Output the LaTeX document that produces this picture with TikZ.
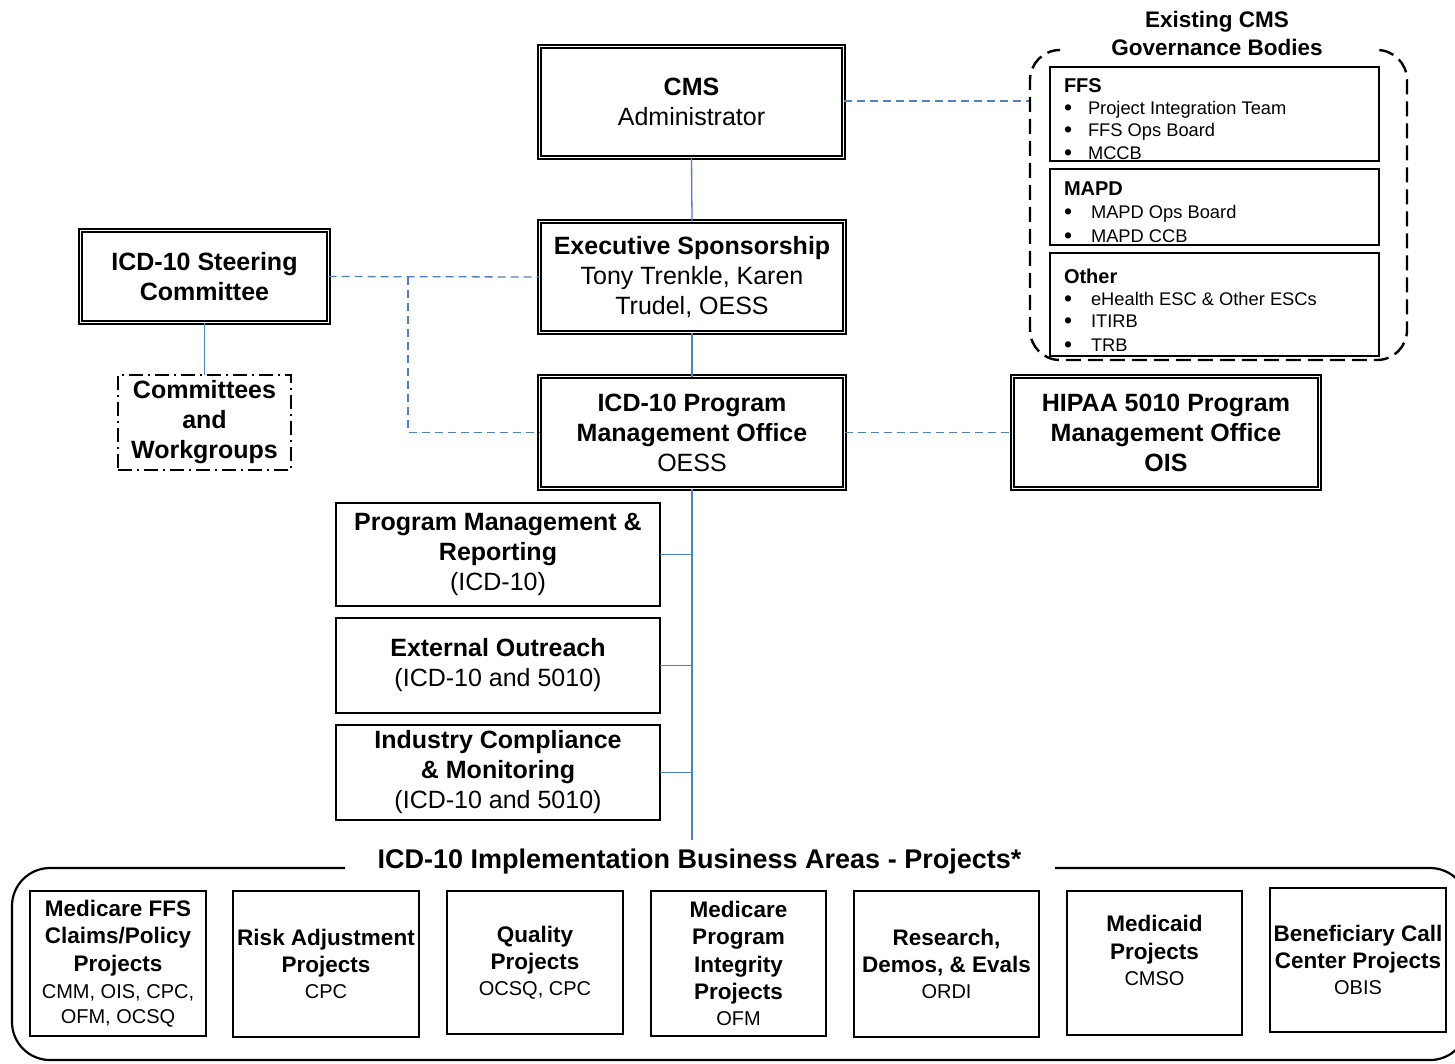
\documentclass[tikz,border=0pt]{standalone}
\usepackage{fontspec}
\setmainfont{Liberation Sans}
\definecolor{lineblue}{RGB}{79,129,189}
\newcommand{\gbul}[1]{\makebox[#1][l]{\raisebox{-0.5pt}{\fontsize{23}{23}\selectfont\textbullet}}}
\begin{document}
\begin{tikzpicture}[x=1pt,y=-1pt,
  every node/.style={inner sep=0pt, outer sep=0pt},
  fmain/.style={font=\fontsize{25}{30}\selectfont},
  dbox/.style={draw, double, line width=1.9pt, double distance=1.3pt, align=center, fmain},
  sbox/.style={draw, line width=2.2pt, align=center, fmain},
  pbox/.style={draw, line width=2pt, align=center, font=\fontsize{22.5}{27.5}\selectfont\bfseries},
  gbox/.style={draw, line width=1.5pt},
  gh/.style={anchor=base west, font=\fontsize{20}{24}\selectfont\bfseries},
  gi/.style={anchor=base west, font=\fontsize{18.3}{23}\selectfont},
  gt/.style={anchor=base, font=\fontsize{22.5}{28}\selectfont\bfseries},
  conn/.style={draw=lineblue, line width=1.3pt},
  dconn/.style={draw=lineblue, line width=1.3pt, dash pattern=on 8pt off 5pt},
]
\useasboundingbox (0,0) rectangle (1455,1063);
\fill[white] (0,0) rectangle (1455,1063);

% main double boxes
\node[dbox, minimum width=304, minimum height=111] (cms) at (691.5,102) {\textbf{CMS}\\Administrator};
\node[dbox, minimum width=305, minimum height=111] (exec) at (692,277) {\textbf{Executive Sponsorship}\\Tony Trenkle, Karen\\Trudel, OESS};
\node[dbox, minimum width=248, minimum height=92] (steer) at (204.5,276.5) {\textbf{ICD-10 Steering}\\\textbf{Committee}};
\node[dbox, minimum width=305, minimum height=112] (pmo) at (692,432.5) {\textbf{ICD-10 Program}\\\textbf{Management Office}\\OESS};
\node[dbox, minimum width=307, minimum height=112] (hipaa) at (1166,432.5) {\textbf{HIPAA 5010 Program}\\\textbf{Management Office}\\\textbf{OIS}};

% committees
\node[draw, line width=2pt, dash pattern=on 14pt off 5pt on 2pt off 5pt, align=center, fmain, minimum width=173, minimum height=95] (comm) at (204.5,422.5) {\textbf{Committees}\\\textbf{and}\\\textbf{Workgroups}};

% PMO sub boxes
\node[sbox, minimum width=324, minimum height=103] (pmr) at (498,554.5) {\textbf{Program Management \&}\\\textbf{Reporting}\\(ICD-10)};
\node[sbox, minimum width=324, minimum height=95] (ext) at (498,665.5) {\textbf{External Outreach}\\(ICD-10 and 5010)};
\node[sbox, minimum width=324, minimum height=95] (ind) at (498,772.5) {\textbf{Industry Compliance}\\\textbf{\& Monitoring}\\(ICD-10 and 5010)};

% connectors
\coordinate (tb) at (692,840);
\draw[conn] (cms.south) -- (exec.north);
\draw[conn] (exec.south) -- (pmo.north);
\draw[conn] (steer.south) -- (comm.north);
\draw[conn] (pmo.south) -- (tb);
\draw[conn] (pmr.east) -- (pmr.east -| tb);
\draw[conn] (ext.east) -- (ext.east -| tb);
\draw[conn] (ind.east) -- (ind.east -| tb);
\coordinate (jn) at (408,277);
\draw[dconn] (steer.east) -- (exec.west);
\draw[dconn] (jn) |- (pmo.west);
\draw[dconn] (pmo.east) -- (hipaa.west);
\coordinate (govL) at (1030,101);
\draw[dconn] (cms.east |- govL) -- (govL);

% governance bodies
\draw[line width=2.4pt, dash pattern=on 15pt off 7pt, rounded corners=30pt]
  (1058,50) -- (1030,50) -- (1030,360) -- (1407,360) -- (1407,50) -- (1375,50);
\node[gt] (gt1) at (1217,27.1) {Existing CMS};
\node[gt] (gt2) at (1217,55.1) {Governance Bodies};
\node[gbox, minimum width=329, minimum height=94] (ffs) at (1214.5,114) {};
\node[gbox, minimum width=329, minimum height=76] (mapd) at (1214.5,207) {};
\node[gbox, minimum width=329, minimum height=103] (oth) at (1214.5,304.5) {};
\node[gh] (ffsh) at (1064,92.2) {FFS};
\node[gi] (ffs1) at (1064,114.6) {\gbul{24pt}Project Integration Team};
\node[gi] (ffs2) at (1064,136.6) {\gbul{24pt}FFS Ops Board};
\node[gi] (ffs3) at (1064,159.6) {\gbul{24pt}MCCB};
\node[gh] (mapdh) at (1064,195.2) {MAPD};
\node[gi] (mapd1) at (1064,218.6) {\gbul{27pt}MAPD Ops Board};
\node[gi] (mapd2) at (1064,242.6) {\gbul{27pt}MAPD CCB};
\node[gh] (othh) at (1064,283.2) {Other};
\node[gi] (oth1) at (1064,305.6) {\gbul{27pt}eHealth ESC \& Other ESCs};
\node[gi] (oth2) at (1064,327.6) {\gbul{27pt}ITIRB};
\node[gi] (oth3) at (1064,351.6) {\gbul{27pt}TRB};

% bottom business areas
\draw[line width=2.2pt, rounded corners=38pt]
  (345,868) -- (12,868) -- (12,1060) -- (1468,1060) -- (1468,868) -- (1055,868);
\node[anchor=base, font=\fontsize{27}{32}\selectfont\bfseries] (btitle) at (699.5,868) {ICD-10 Implementation Business Areas - Projects*};

\node[pbox, minimum width=176, minimum height=145] (b1) at (118,963.5) {Medicare FFS\\Claims/Policy\\Projects\\{\mdseries\fontsize{20}{25}\selectfont CMM, OIS, CPC,}\\[-2.5pt]{\mdseries\fontsize{20}{25}\selectfont OFM, OCSQ}};
\node[pbox, minimum width=186, minimum height=146] (b2) at (326,964) {Risk Adjustment\\Projects\\[-1.5pt]{\mdseries\fontsize{20}{25}\selectfont CPC}};
\node[pbox, minimum width=176, minimum height=143] (b3) at (535,962.5) {Quality\\Projects\\[-1.5pt]{\mdseries\fontsize{20}{25}\selectfont OCSQ, CPC}};
\node[pbox, minimum width=175, minimum height=145] (b4) at (738.5,963.5) {Medicare\\Program\\Integrity\\Projects\\[-1.5pt]{\mdseries\fontsize{20}{25}\selectfont OFM}};
\node[pbox, minimum width=185, minimum height=146] (b5) at (946.5,964) {Research,\\Demos, \& Evals\\[-1.5pt]{\mdseries\fontsize{20}{25}\selectfont ORDI}};
\node[pbox, minimum width=175, minimum height=144] (b6) at (1154.5,963) {};
\node[align=center, font=\fontsize{22.5}{27.5}\selectfont\bfseries] (b6t) at (1154.5,950.5) {Medicaid\\Projects\\[-1.5pt]{\mdseries\fontsize{20}{25}\selectfont CMSO}};
\node[pbox, minimum width=176, minimum height=144] (b7) at (1358,960) {Beneficiary Call\\Center Projects\\[-1.5pt]{\mdseries\fontsize{20}{25}\selectfont OBIS}};
\end{tikzpicture}
\end{document}
